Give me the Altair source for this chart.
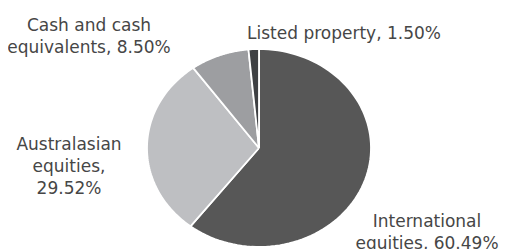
import altair as alt
import pandas as pd

# ---- data ----
categories = ["International equities", "Australasian equities",
              "Cash and cash equivalents", "Listed property"]
shares = [60.49, 29.52, 8.50, 1.50]
label_texts = [
    ["International", "equities, 60.49%"],
    ["Australasian", "equities,", "29.52%"],
    ["Cash and cash", "equivalents, 8.50%"],
    ["Listed property, 1.50%"],
]
colors = ["#575757", "#bebfc2", "#9d9ea1", "#3e4043"]

# ---- layout (not data) ----
W, H = 493, 241
CX, CY, RX, RY = 251, 140, 112, 99
N = 90
label_pos = [(419, 219), (61, 142), (81, 22.5), (336, 31)]
FONT = "DejaVu Sans"

df = pd.DataFrame({"category": categories, "share": shares,
                   "idx": list(range(len(categories)))})

pie = (
    alt.Chart(df)
    .transform_window(cum="sum(share)", sort=[alt.SortField("idx")], frame=[None, 0])
    .transform_joinaggregate(total="sum(share)")
    .transform_calculate(start="datum.cum - datum.share")
    .transform_calculate(steps=f"sequence(-1, {N + 2})")
    .transform_flatten(["steps"])
    .transform_calculate(
        ang=f"2*PI*(datum.start + clamp(datum.steps, 0, {N})/{N}*datum.share)/datum.total"
    )
    .transform_calculate(
        px=f"(datum.steps < 0 || datum.steps > {N}) ? {CX} : {CX} + {RX}*sin(datum.ang)",
        py=f"(datum.steps < 0 || datum.steps > {N}) ? {CY} : {CY} - {RY}*cos(datum.ang)",
    )
    .mark_line(stroke="white", strokeWidth=1.8, strokeJoin="round", interpolate="linear")
    .encode(
        x=alt.X("px:Q", scale=None, axis=None),
        y=alt.Y("py:Q", scale=None, axis=None),
        detail="category:N",
        order=alt.Order("steps:Q"),
        fill=alt.Fill("category:N", scale=alt.Scale(domain=categories, range=colors), legend=None),
    )
)

layers = [pie]
for lines, (lx, ly) in zip(label_texts, label_pos):
    layers.append(
        alt.Chart(pd.DataFrame({"t": [lines]}))
        .mark_text(font=FONT, fontSize=17, color="#464646", align="center",
                   baseline="alphabetic", lineHeight=22)
        .encode(text="t", x=alt.value(lx), y=alt.value(ly))
    )

chart = (
    alt.layer(*layers)
    .properties(width=W, height=H, padding=0, autosize=alt.AutoSizeParams(type="none"))
    .configure_view(stroke=None)
)
chart.save("out.html", embed_options={"renderer": "svg", "actions": False})
